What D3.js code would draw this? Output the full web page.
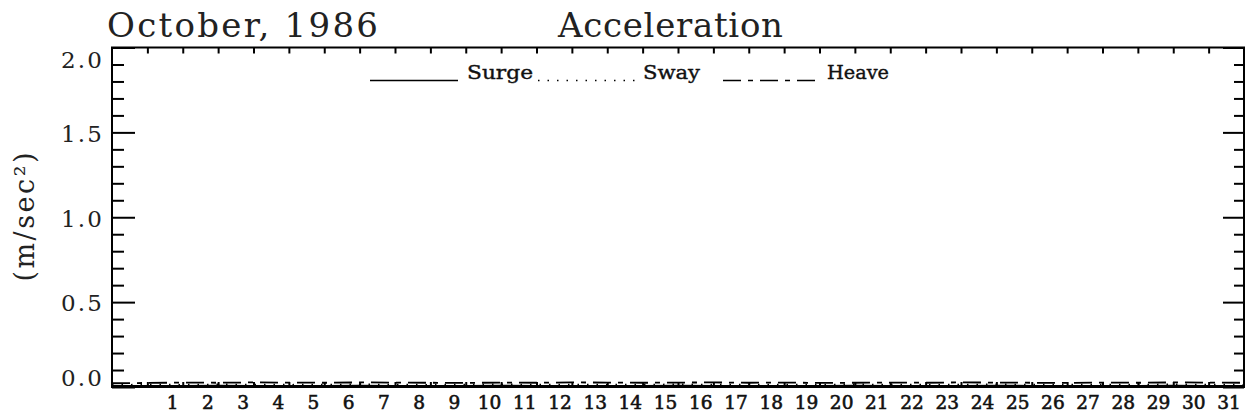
<!DOCTYPE html>
<html><head><meta charset="utf-8">
<script src="https://cdn.jsdelivr.net/npm/d3@7/dist/d3.min.js"></script>
<style>body{margin:0;background:#fff}svg{display:block}</style>
</head><body>
<svg id="c" width="1252" height="419"></svg>
<script>
// ---- data ----
const days = [1,2,3,4,5,6,7,8,9,10,11,12,13,14,15,16,17,18,19,20,21,22,23,24,25,26,27,28,29,30,31];
const dayLabels = ["1","2","3","4","5","6","7","8","9","10","11","12","13","14","15","16","17","18","19","20","21","22","23","24","25","26","27","28","29","30","31"];
const yMajor = [0.0, 0.5, 1.0, 1.5, 2.0];
const yMinor = [0.1,0.2,0.3,0.4,0.6,0.7,0.8,0.9,1.1,1.2,1.3,1.4,1.6,1.7,1.8,1.9];
const yLabels = ["0.0","0.5","1.0","1.5","2.0"];
// positions in days along the axis (0 = axis start)
const tDays = [0,1,2,3,4,5,6,7,8,9,10,11,12,13,14,15,16,17,18,19,20,21,22,23,24,25,26,27,28,29,30,31,32];
const surge = [0.006,0.007,0.006,0.008,0.007,0.006,0.007,0.008,0.007,0.006,0.007,0.008,0.007,0.007,0.006,0.007,0.008,0.007,0.006,0.007,0.007,0.008,0.007,0.006,0.007,0.008,0.007,0.006,0.007,0.007,0.008,0.007,0.006];
const sway  = [0.012,0.014,0.013,0.015,0.014,0.013,0.014,0.015,0.014,0.013,0.014,0.015,0.014,0.014,0.013,0.014,0.015,0.014,0.013,0.014,0.014,0.015,0.014,0.013,0.014,0.015,0.014,0.013,0.014,0.014,0.015,0.014,0.013];
const heave = [0.022,0.024,0.026,0.025,0.027,0.026,0.025,0.027,0.026,0.025,0.024,0.026,0.025,0.027,0.026,0.025,0.026,0.027,0.025,0.026,0.024,0.025,0.026,0.025,0.027,0.026,0.025,0.024,0.026,0.025,0.027,0.026,0.025];
const seriesNames = ["Surge","Sway","Heave"];

// ---- layout ----
const svg = d3.select("#c");
const L = 112, R = 1244, T = 47.5, B = 387;
const x = d3.scaleLinear().domain([0, 32]).range([L, R]);
const y = d3.scaleLinear().domain([0, 2]).range([B, T]);
const xLab = d3.scaleLinear().domain([1, 31]).range([x(1.70), x(31.56)]);
const serif = "'DejaVu Serif', 'Liberation Serif', serif";
const dash = {Surge: null, Sway: "1.5,8", Heave: "18,7,5,7"};

// frame
svg.append("rect").attr("x", L).attr("y", T).attr("width", R - L).attr("height", B - T)
  .attr("fill", "none").attr("stroke", "#000").attr("stroke-width", 2);

function styleAxis(g){ g.select(".domain").remove(); g.selectAll("line").attr("stroke","#000").attr("stroke-width",2); }

// left axis
svg.append("g").attr("transform", `translate(${L},0)`)
  .call(d3.axisLeft(y).tickValues(yMinor).tickSize(-12).tickFormat("")).call(styleAxis);
const yl = svg.append("g").attr("transform", `translate(${L},0)`)
  .call(d3.axisLeft(y).tickValues(yMajor).tickSize(-23).tickPadding(10).tickFormat((d,i)=>yLabels[i])).call(styleAxis);
yl.selectAll("text").attr("font-family", serif).attr("font-size", 23).attr("fill", "#222")
  .attr("textLength", 41).attr("lengthAdjust", "spacing")
  .attr("dy", d => d === 2 ? "0.85em" : d === 0 ? "-0.05em" : "0.38em");

// right axis
svg.append("g").attr("transform", `translate(${R},0)`)
  .call(d3.axisRight(y).tickValues(yMinor).tickSize(-10).tickFormat("")).call(styleAxis);
svg.append("g").attr("transform", `translate(${R},0)`)
  .call(d3.axisRight(y).tickValues(yMajor).tickSize(-21).tickFormat("")).call(styleAxis);

// top and bottom ticks
svg.append("g").attr("transform", `translate(0,${T})`)
  .call(d3.axisTop(x).tickValues(days).tickSize(-6).tickFormat("")).call(styleAxis);
svg.append("g").attr("transform", `translate(0,${B})`)
  .call(d3.axisBottom(x).tickValues(days).tickSize(-5).tickFormat("")).call(styleAxis);
const xl = svg.append("g").attr("transform", `translate(0,${B})`)
  .call(d3.axisBottom(xLab).tickValues(days).tickSize(0).tickPadding(9).tickFormat((d,i)=>dayLabels[i]));
xl.select(".domain").remove();
xl.selectAll("text").attr("font-family", serif).attr("font-size", 18.5).attr("fill", "#111")
  .attr("stroke", "#111").attr("stroke-width", 0.6);

// data lines
const line = d3.line().x((d,i)=>x(tDays[i])).y(d=>y(d));
[[surge,"Surge"],[sway,"Sway"],[heave,"Heave"]].forEach(([vals,name])=>{
  svg.append("path").datum(vals).attr("d", line).attr("fill","none")
    .attr("stroke","#000").attr("stroke-width", 1.8)
    .attr("stroke-dasharray", dash[name]);
});

// titles
svg.append("text").attr("x", 107).attr("y", 37).text("October, 1986")
  .attr("font-family", serif).attr("font-size", 34).attr("fill", "#222")
  .attr("textLength", 271).attr("lengthAdjust", "spacing");
svg.append("text").attr("x", 558).attr("y", 37).text("Acceleration")
  .attr("font-family", serif).attr("font-size", 34).attr("fill", "#222")
  .attr("textLength", 225).attr("lengthAdjust", "spacing");
svg.append("text").attr("transform", "translate(34,217) rotate(-90)").attr("text-anchor","middle")
  .attr("font-family", serif).attr("font-size", 27).attr("fill", "#222")
  .attr("textLength", 129).attr("lengthAdjust", "spacing").text("(m/sec²)");

// legend
const legend = [
  {name: "Surge", x1: 370, x2: 458, tx: 467, tw: 66},
  {name: "Sway",  x1: 538, x2: 635, tx: 643, tw: 57},
  {name: "Heave", x1: 723, x2: 817, tx: 827, tw: 62}
];
legend.forEach(l=>{
  svg.append("line").attr("x1", l.x1).attr("x2", l.x2).attr("y1", 80.5).attr("y2", 80.5)
    .attr("stroke", "#000").attr("stroke-width", 1.6).attr("stroke-dasharray", dash[l.name]);
  svg.append("text").attr("x", l.tx).attr("y", 79).text(l.name)
    .attr("font-family", serif).attr("font-size", 19).attr("fill", "#111")
    .attr("stroke", "#111").attr("stroke-width", 0.4)
    .attr("textLength", l.tw).attr("lengthAdjust", "spacingAndGlyphs");
});
</script>
</body></html>
